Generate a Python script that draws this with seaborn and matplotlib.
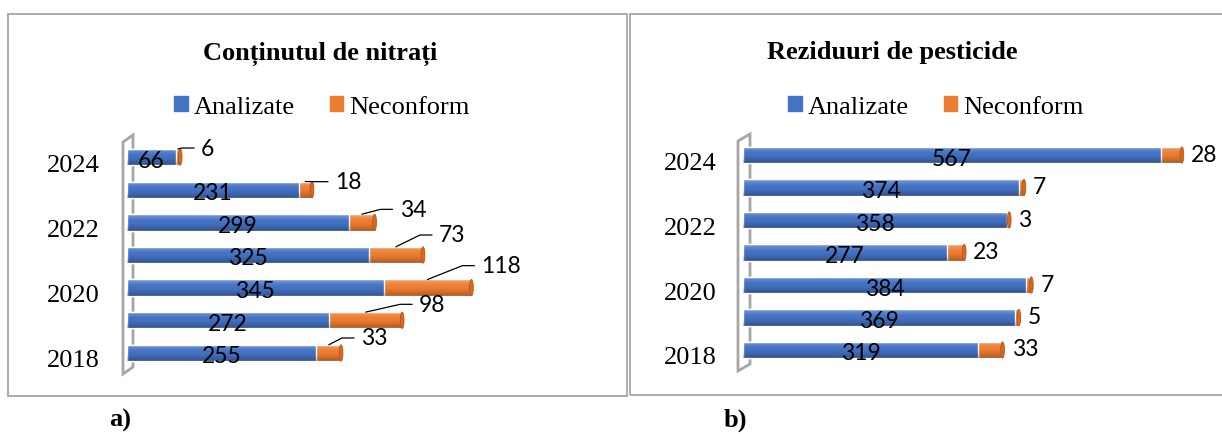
import numpy as np
import pandas as pd
import seaborn as sns
import matplotlib.pyplot as plt
import matplotlib.transforms as mtransforms
from matplotlib.patches import Patch, Rectangle, Polygon, Ellipse

# -----------------------------
# Data
# -----------------------------
years = ['2024', '2023', '2022', '2021', '2020', '2019', '2018']
year_ticks = ['2024', '', '2022', '', '2020', '', '2018']

nitrati_analizate = [66, 231, 299, 325, 345, 272, 255]
nitrati_neconform = [6, 18, 34, 73, 118, 98, 33]

pesticide_analizate = [567, 374, 358, 277, 384, 369, 319]
pesticide_neconform = [28, 7, 3, 23, 7, 5, 33]

# callout label offsets for the left panel (pixels right of bar end, pixels up)
nitrati_callout = [(21, 9), (23, 8), (25, 13), (16, 20), (10, 22), (17, 16), (20, 15)]

BLUE = '#4472C4'
ORANGE = '#ED7D31'
GREY = '#a6a6a6'
SERIF = ['Liberation Serif', 'DejaVu Serif']
SANS = ['Lato', 'DejaVu Sans']

sns.set_theme(style='white')
plt.rcParams['font.family'] = SANS
plt.rcParams['text.color'] = 'black'
plt.rcParams['ytick.color'] = 'black'
plt.rcParams['ytick.labelcolor'] = 'black'

W, H = 1222, 435
fig = plt.figure(figsize=(W / 100, H / 100), dpi=100)


def fx(px):
    return px / W


def fy(py):
    return 1 - py / H


def make_axes(x0, top, bottom, width_px):
    return fig.add_axes([fx(x0), fy(bottom), width_px / W, (bottom - top) / H])


# light on top, darker underneath -> cylinder look
shade = np.zeros((40, 1, 4))
t = np.linspace(0, 1, 40)
shade[:, 0, :3] = np.where(t < 0.45, 1.0, 0.0)[:, None]
shade[:, 0, 3] = np.where(t < 0.45, 0.35 * (1 - t / 0.45) ** 1.5, 0.28 * ((t - 0.45) / 0.55) ** 1.5)


def draw_panel(ax, analizate, neconform, bar_h=0.5):
    df = pd.DataFrame({'An': years, 'Analizate': analizate, 'Neconform': neconform})
    df['Total'] = df['Analizate'] + df['Neconform']
    sns.barplot(data=df, x='Total', y='An', order=years, orient='h', color=ORANGE,
                saturation=1, width=bar_h, errorbar=None, ax=ax, zorder=2)
    sns.barplot(data=df, x='Analizate', y='An', order=years, orient='h', color=BLUE,
                saturation=1, width=bar_h, errorbar=None, ax=ax, zorder=3)
    for p in list(ax.patches):
        x0, y0, w, h = p.get_x(), p.get_y(), p.get_width(), p.get_height()
        im = ax.imshow(shade, extent=(x0, x0 + w, y0 + h, y0), aspect='auto',
                       zorder=p.get_zorder() + 0.1, interpolation='bilinear')
        im.set_clip_path(p)
    # rounded end caps of the cylinders
    for i, tot in enumerate(df['Total']):
        ax.add_patch(Ellipse((tot, i), width=5, height=bar_h, fc='#d9691f',
                             ec='#b4561a', lw=0.6, zorder=3.5))
    ax.set_facecolor('none')
    ax.set_xlim(0, 650)
    ax.set_ylim(6.5, -0.5)
    ax.set_xticks([])
    ax.set_xlabel('')
    ax.set_ylabel('')
    ax.set_yticks(range(len(years)))
    ax.set_yticklabels(year_ticks, fontsize=19, family=SERIF, color='black')
    ax.tick_params(axis='y', length=0, pad=19)
    shift = mtransforms.ScaledTranslation(0, -5 / 100, fig.dpi_scale_trans)
    for lab in ax.get_yticklabels():
        lab.set_transform(lab.get_transform() + shift)
    sns.despine(ax=ax, left=True, bottom=True)
    # value labels inside the blue bars
    for i, a in enumerate(analizate):
        ax.annotate(str(a), xy=(a / 2, i), xytext=(0, -3), textcoords='offset pixels',
                    ha='center', va='center', fontsize=16.5, color='black', zorder=5)
    return df


def wall(x_left, x_right, top, bottom):
    # thin grey 3D side wall
    poly = Polygon([(fx(x_left), fy(bottom)), (fx(x_left), fy(top + 7)),
                    (fx(x_right), fy(top)), (fx(x_right), fy(bottom - 7))],
                   closed=True, fill=False, ec=GREY, lw=2,
                   transform=fig.transFigure, zorder=-1)
    fig.add_artist(poly)


# -----------------------------
# Panel frames
# -----------------------------
fig.add_artist(Rectangle((fx(8), fy(397)), fx(627) - fx(8), fy(15) - fy(397), fill=False,
                         ec=GREY, lw=1.3, transform=fig.transFigure, zorder=-2))
fig.add_artist(Rectangle((fx(629.5), fy(396)), fx(1240) - fx(629.5), fy(15) - fy(396),
                         fill=False, ec=GREY, lw=1.3, transform=fig.transFigure, zorder=-2))

# -----------------------------
# a) Continutul de nitrati
# -----------------------------
ax1 = make_axes(126.5, 141.7, 370.3, 650 * 0.745)
draw_panel(ax1, nitrati_analizate, nitrati_neconform)
wall(123, 133, 136, 375)

to_disp = ax1.transData.transform
to_data = ax1.transData.inverted().transform
for i, (a, n) in enumerate(zip(nitrati_analizate, nitrati_neconform)):
    dx, dy = nitrati_callout[i]
    end = to_disp((a + n, i))
    lab = (end[0] + dx, end[1] + dy)
    start = (a + n / 2, i - 0.25)
    h_end = to_data((lab[0] - 7, lab[1]))
    h_start = to_data((lab[0] - 19, lab[1]))
    ax1.plot([start[0], h_start[0], h_end[0]], [start[1], h_start[1], h_end[1]],
             color='black', lw=0.9, clip_on=False, zorder=4)
    ax1.annotate(str(n), xy=to_data(lab), ha='left', va='center', fontsize=16.5,
                 color='black', annotation_clip=False, zorder=5)

fig.text(fx(320), fy(60), 'Conținutul de nitrați', ha='center', va='baseline',
         fontsize=19, fontweight='bold', family=SERIF, color='black')
fig.legend(handles=[Patch(color=BLUE, label='Analizate'), Patch(color=ORANGE, label='Neconform')],
           loc='center', bbox_to_anchor=(fx(322), fy(108)), ncol=2, frameon=False,
           prop={'family': SERIF, 'size': 19}, handlelength=0.5, handleheight=0.5,
           handletextpad=0.25, columnspacing=1.3, labelcolor='black')
fig.text(fx(120), fy(420), 'a)', ha='center', va='center', fontsize=19,
         fontweight='bold', family=SERIF, color='black')

# -----------------------------
# b) Reziduuri de pesticide
# -----------------------------
ax2 = make_axes(742.8, 139.75, 367.25, 650 * 0.738)
draw_panel(ax2, pesticide_analizate, pesticide_neconform)
wall(738, 750, 135, 372)

for i, (a, n) in enumerate(zip(pesticide_analizate, pesticide_neconform)):
    ax2.annotate(str(n), xy=(a + n, i), xytext=(9, 1), textcoords='offset pixels',
                 ha='left', va='center', fontsize=16.5, color='black',
                 annotation_clip=False, zorder=5)

fig.text(fx(892), fy(59), 'Reziduuri de pesticide', ha='center', va='baseline',
         fontsize=19, fontweight='bold', family=SERIF, color='black')
fig.legend(handles=[Patch(color=BLUE, label='Analizate'), Patch(color=ORANGE, label='Neconform')],
           loc='center', bbox_to_anchor=(fx(936), fy(108)), ncol=2, frameon=False,
           prop={'family': SERIF, 'size': 19}, handlelength=0.5, handleheight=0.5,
           handletextpad=0.25, columnspacing=1.3, labelcolor='black')
fig.text(fx(735), fy(420), 'b)', ha='center', va='center', fontsize=19,
         fontweight='bold', family=SERIF, color='black')

fig.savefig('out.png', dpi=100)
